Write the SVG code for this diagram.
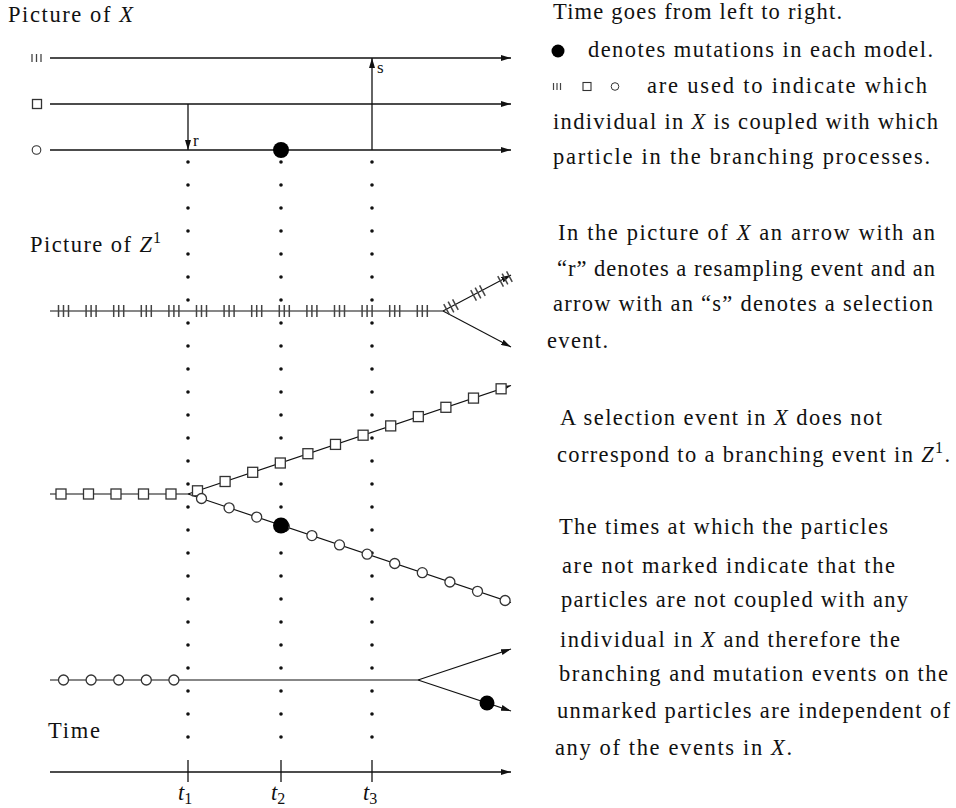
<svg xmlns="http://www.w3.org/2000/svg" xmlns:xlink="http://www.w3.org/1999/xlink" width="956" height="808" viewBox="0 0 956 808">
<style>
  .t { font-family: "Liberation Serif", "DejaVu Serif", serif; font-size: 22.5px; fill: #111; }
  .it { font-style: italic; }
  .sm { font-size: 16px; }
  .ln { stroke: #111; stroke-width: 1.3; fill: none; }
  .br { stroke: #111; stroke-width: 1.1; fill: none; }
  .dots { stroke: #111; stroke-width: 3.6; stroke-linecap: round; stroke-dasharray: 0 23; fill: none; }
  .mk { fill: #fff; stroke: #333; stroke-width: 1.3; }
  .tick { stroke: #444; stroke-width: 1.5; }
  .mut { fill: #000; }
</style>
<defs>
  <marker id="ah" viewBox="0 0 10 6" markerWidth="10" markerHeight="6" refX="10" refY="3" orient="auto" markerUnits="userSpaceOnUse">
    <path d="M0,0 L10,3 L0,6 z" fill="#111"/>
  </marker>
  <g id="tri">
    <line class="tick" x1="-5" y1="-6" x2="-5" y2="6"/>
    <line class="tick" x1="0" y1="-6" x2="0" y2="6"/>
    <line class="tick" x1="5" y1="-6" x2="5" y2="6"/>
  </g>
  <rect id="sq" class="mk" x="-5" y="-5" width="10" height="10"/>
  <circle id="ci" class="mk" r="5"/>
</defs>

<!-- Titles -->
<text class="t" x="8" y="22" textLength="125" lengthAdjust="spacing">Picture of <tspan class="it">X</tspan></text>
<text class="t" x="30" y="252" textLength="122" lengthAdjust="spacing">Picture of <tspan class="it">Z</tspan></text>
<text class="t sm" x="153" y="243">1</text>

<!-- Picture of X -->
<g id="x-lines">
  <g id="x-legend">
    <line class="tick" x1="32" y1="54" x2="32" y2="62" style="stroke-width:1.3"/>
    <line class="tick" x1="36.5" y1="54" x2="36.5" y2="62" style="stroke-width:1.3"/>
    <line class="tick" x1="41" y1="54" x2="41" y2="62" style="stroke-width:1.3"/>
    <rect class="mk" x="32.5" y="99.5" width="9" height="9"/>
    <circle class="mk" cx="36.5" cy="150" r="4.3" style="stroke-width:1.1"/>
  </g>
  <line class="ln" x1="50" y1="58" x2="511" y2="58" marker-end="url(#ah)"/>
  <line class="ln" x1="50" y1="104" x2="511" y2="104" marker-end="url(#ah)"/>
  <line class="ln" x1="50" y1="150" x2="511" y2="150" marker-end="url(#ah)"/>
</g>
<g id="x-events">
  <line class="ln" x1="188" y1="104" x2="188" y2="150" marker-end="url(#ah)"/>
  <text class="t" x="193" y="146" style="font-size:17px">r</text>
  <line class="ln" x1="372" y1="150" x2="372" y2="58" marker-end="url(#ah)"/>
  <text class="t" x="377" y="73" style="font-size:17px">s</text>
  <circle class="mut" cx="281" cy="150" r="8"/>
</g>

<!-- dotted time lines -->
<g id="dotted">
  <line class="dots" x1="188" y1="162" x2="188" y2="740"/>
  <line class="dots" x1="281" y1="162" x2="281" y2="740"/>
  <line class="dots" x1="372" y1="162" x2="372" y2="740"/>
</g>

<!-- Z1 line with III marks -->
<g id="z-top">
  <line class="br" x1="50" y1="311" x2="443" y2="311"/>
  <line class="br" x1="443" y1="311" x2="511" y2="275" marker-end="url(#ah)"/>
  <line class="br" x1="443" y1="311" x2="511" y2="347" marker-end="url(#ah)"/>
  <use xlink:href="#tri" x="63.5" y="311"/>
  <use xlink:href="#tri" x="91.1" y="311"/>
  <use xlink:href="#tri" x="118.7" y="311"/>
  <use xlink:href="#tri" x="146.3" y="311"/>
  <use xlink:href="#tri" x="173.9" y="311"/>
  <use xlink:href="#tri" x="201.5" y="311"/>
  <use xlink:href="#tri" x="229.1" y="311"/>
  <use xlink:href="#tri" x="256.7" y="311"/>
  <use xlink:href="#tri" x="284.3" y="311"/>
  <use xlink:href="#tri" x="311.9" y="311"/>
  <use xlink:href="#tri" x="339.5" y="311"/>
  <use xlink:href="#tri" x="367.1" y="311"/>
  <use xlink:href="#tri" x="394.7" y="311"/>
  <use xlink:href="#tri" x="422.3" y="311"/>
  <use xlink:href="#tri" transform="translate(451,307) rotate(-28)"/>
  <use xlink:href="#tri" transform="translate(478,293) rotate(-28)"/>
  <use xlink:href="#tri" transform="translate(505,279) rotate(-28)"/>
</g>

<!-- square / circle line -->
<g id="z-mid">
  <line class="br" x1="50" y1="494" x2="188" y2="494"/>
  <line class="br" x1="188" y1="494" x2="511" y2="385.5" marker-end="url(#ah)"/>
  <line class="br" x1="188" y1="494" x2="511" y2="602.5" marker-end="url(#ah)"/>
  <use xlink:href="#sq" x="61" y="494"/>
  <use xlink:href="#sq" x="88.5" y="494"/>
  <use xlink:href="#sq" x="116" y="494"/>
  <use xlink:href="#sq" x="143.5" y="494"/>
  <use xlink:href="#sq" x="171" y="494"/>
  <use xlink:href="#sq" x="197.5" y="490.8"/>
  <use xlink:href="#sq" x="225.1" y="481.5"/>
  <use xlink:href="#sq" x="252.7" y="472.3"/>
  <use xlink:href="#sq" x="280.3" y="463"/>
  <use xlink:href="#sq" x="307.9" y="453.7"/>
  <use xlink:href="#sq" x="335.5" y="444.4"/>
  <use xlink:href="#sq" x="363.1" y="435.2"/>
  <use xlink:href="#sq" x="390.7" y="425.9"/>
  <use xlink:href="#sq" x="418.3" y="416.6"/>
  <use xlink:href="#sq" x="445.9" y="407.3"/>
  <use xlink:href="#sq" x="473.5" y="398.1"/>
  <use xlink:href="#sq" x="501.1" y="388.8"/>
  <use xlink:href="#ci" x="201.5" y="498.5"/>
  <use xlink:href="#ci" x="229.1" y="507.8"/>
  <use xlink:href="#ci" x="256.7" y="517.1"/>
  <use xlink:href="#ci" x="284.3" y="526.4"/>
  <use xlink:href="#ci" x="311.9" y="535.6"/>
  <use xlink:href="#ci" x="339.5" y="544.9"/>
  <use xlink:href="#ci" x="367.1" y="554.2"/>
  <use xlink:href="#ci" x="394.7" y="563.5"/>
  <use xlink:href="#ci" x="422.3" y="572.7"/>
  <use xlink:href="#ci" x="449.9" y="582"/>
  <use xlink:href="#ci" x="477.5" y="591.3"/>
  <use xlink:href="#ci" x="505.1" y="600.5"/>
  <circle class="mut" cx="281" cy="525.5" r="8"/>
</g>

<!-- bottom circle line -->
<g id="z-bot">
  <line class="br" x1="50" y1="680" x2="418" y2="680"/>
  <line class="br" x1="418" y1="680" x2="511" y2="649" marker-end="url(#ah)"/>
  <line class="br" x1="418" y1="680" x2="511" y2="711" marker-end="url(#ah)"/>
  <use xlink:href="#ci" x="63.5" y="680"/>
  <use xlink:href="#ci" x="91.1" y="680"/>
  <use xlink:href="#ci" x="118.7" y="680"/>
  <use xlink:href="#ci" x="146.3" y="680"/>
  <use xlink:href="#ci" x="173.9" y="680"/>
  <circle class="mut" cx="487" cy="703" r="7.5"/>
</g>

<!-- Time axis -->
<g id="time-axis">
  <text class="t" x="48" y="738" textLength="52" lengthAdjust="spacing">Time</text>
  <line class="ln" x1="50" y1="772" x2="511" y2="772" marker-end="url(#ah)"/>
  <line class="ln" x1="188" y1="760" x2="188" y2="782"/>
  <line class="ln" x1="281" y1="760" x2="281" y2="782"/>
  <line class="ln" x1="372" y1="760" x2="372" y2="782"/>
  <text class="t" x="178" y="800"><tspan class="it">t</tspan><tspan dy="4" class="sm">1</tspan></text>
  <text class="t" x="271" y="800"><tspan class="it">t</tspan><tspan dy="4" class="sm">2</tspan></text>
  <text class="t" x="363" y="800"><tspan class="it">t</tspan><tspan dy="4" class="sm">3</tspan></text>
</g>

<!-- Right column text -->
<g id="notes">
  <text class="t" x="553" y="19" textLength="289" lengthAdjust="spacing">Time goes from left to right.</text>
  <circle class="mut" cx="558" cy="51" r="6.5"/>
  <text class="t" x="588" y="57" textLength="345" lengthAdjust="spacing">denotes mutations in each model.</text>
  <line class="tick" x1="553.5" y1="83" x2="553.5" y2="90" style="stroke-width:1.2"/>
  <line class="tick" x1="557" y1="83" x2="557" y2="90" style="stroke-width:1.2"/>
  <line class="tick" x1="560.5" y1="83" x2="560.5" y2="90" style="stroke-width:1.2"/>
  <rect class="mk" x="583" y="82.5" width="8" height="8" style="stroke-width:1.1"/>
  <circle class="mk" cx="615" cy="86.5" r="3.8" style="stroke-width:1"/>
  <text class="t" x="647" y="93" textLength="280" lengthAdjust="spacing">are used to indicate which</text>
  <text class="t" x="553" y="129" textLength="385" lengthAdjust="spacing">individual in <tspan class="it">X</tspan> is coupled with which</text>
  <text class="t" x="553" y="164" textLength="377" lengthAdjust="spacing">particle in the branching processes.</text>

  <text class="t" x="558" y="240" textLength="377" lengthAdjust="spacing">In the picture of <tspan class="it">X</tspan> an arrow with an</text>
  <text class="t" x="557" y="276" textLength="378" lengthAdjust="spacing">“r” denotes a resampling event and an</text>
  <text class="t" x="553" y="311" textLength="380" lengthAdjust="spacing">arrow with an “s” denotes a selection</text>
  <text class="t" x="547" y="348" textLength="61" lengthAdjust="spacing">event.</text>

  <text class="t" x="560" y="425" textLength="322" lengthAdjust="spacing">A selection event in <tspan class="it">X</tspan> does not</text>
  <text class="t" x="557" y="462" textLength="393" lengthAdjust="spacing">correspond to a branching event in <tspan class="it">Z</tspan><tspan dy="-9" class="sm">1</tspan><tspan dy="9">.</tspan></text>

  <text class="t" x="559" y="534" textLength="329" lengthAdjust="spacing">The times at which the particles</text>
  <text class="t" x="562" y="573" textLength="333" lengthAdjust="spacing">are not marked indicate that the</text>
  <text class="t" x="561" y="607" textLength="347" lengthAdjust="spacing">particles are not coupled with any</text>
  <text class="t" x="560" y="647" textLength="340" lengthAdjust="spacing">individual in <tspan class="it">X</tspan> and therefore the</text>
  <text class="t" x="559" y="681" textLength="389" lengthAdjust="spacing">branching and mutation events on the</text>
  <text class="t" x="557" y="718" textLength="393" lengthAdjust="spacing">unmarked particles are independent of</text>
  <text class="t" x="555" y="755" textLength="237" lengthAdjust="spacing">any of the events in <tspan class="it">X</tspan>.</text>
</g>
</svg>
